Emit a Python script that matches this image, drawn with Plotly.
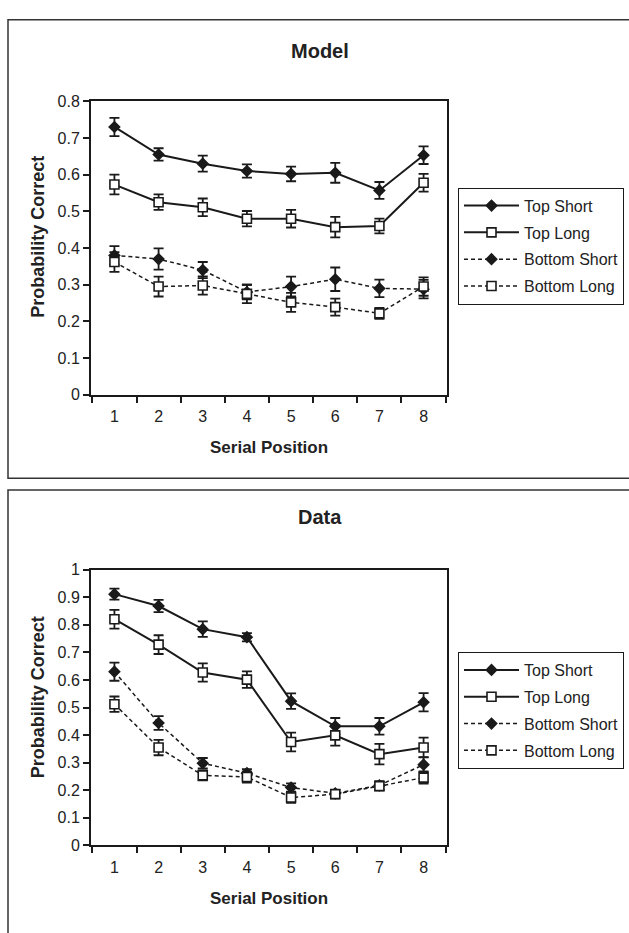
import plotly.graph_objects as go

# Serial positions (category axis)
positions = ["1", "2", "3", "4", "5", "6", "7", "8"]
series_names = ["Top Short", "Top Long", "Bottom Short", "Bottom Long"]

# Model panel: mean probability correct and error-bar half widths
model_top_short = [0.73, 0.655, 0.63, 0.61, 0.602, 0.605, 0.557, 0.653]
model_top_short_err = [0.025, 0.017, 0.022, 0.018, 0.02, 0.027, 0.023, 0.024]
model_top_long = [0.573, 0.525, 0.511, 0.48, 0.48, 0.457, 0.46, 0.578]
model_top_long_err = [0.027, 0.021, 0.024, 0.021, 0.024, 0.028, 0.02, 0.024]
model_bottom_short = [0.38, 0.37, 0.34, 0.28, 0.295, 0.315, 0.29, 0.288]
model_bottom_short_err = [0.025, 0.029, 0.022, 0.02, 0.027, 0.032, 0.024, 0.025]
model_bottom_long = [0.362, 0.295, 0.298, 0.275, 0.252, 0.239, 0.222, 0.295]
model_bottom_long_err = [0.027, 0.027, 0.025, 0.025, 0.026, 0.023, 0.015, 0.025]

# Data panel
data_top_short = [0.911, 0.868, 0.784, 0.755, 0.523, 0.432, 0.432, 0.519]
data_top_short_err = [0.02, 0.022, 0.028, 0.015, 0.028, 0.03, 0.03, 0.033]
data_top_long = [0.82, 0.728, 0.627, 0.601, 0.375, 0.399, 0.331, 0.355]
data_top_long_err = [0.034, 0.034, 0.033, 0.03, 0.034, 0.037, 0.037, 0.036]
data_bottom_short = [0.63, 0.444, 0.298, 0.262, 0.21, 0.189, 0.218, 0.293]
data_bottom_short_err = [0.033, 0.025, 0.019, 0.015, 0.015, 0.012, 0.015, 0.027]
data_bottom_long = [0.512, 0.355, 0.254, 0.248, 0.174, 0.186, 0.215, 0.246]
data_bottom_long_err = [0.028, 0.028, 0.018, 0.02, 0.02, 0.015, 0.015, 0.022]

# Y tick labels
model_yticks = [0, 0.1, 0.2, 0.3, 0.4, 0.5, 0.6, 0.7, 0.8]
model_yticktext = ["0", "0.1", "0.2", "0.3", "0.4", "0.5", "0.6", "0.7", "0.8"]
data_yticks = [0, 0.1, 0.2, 0.3, 0.4, 0.5, 0.6, 0.7, 0.8, 0.9, 1.0]
data_yticktext = ["0", "0.1", "0.2", "0.3", "0.4", "0.5", "0.6", "0.7", "0.8", "0.9", "1"]

W, H = 629, 933
FONT = "Liberation Sans, Arial, sans-serif"
INK = "#1a1a1a"


def px_x(v):
    return v / W


def px_y(v):
    return 1 - v / H


styles = {
    "Top Short": dict(symbol="diamond", fill=INK, dash="solid", lw=2),
    "Top Long": dict(symbol="square", fill="white", dash="solid", lw=2),
    "Bottom Short": dict(symbol="diamond", fill=INK, dash="4px,3px", lw=1.5),
    "Bottom Long": dict(symbol="square", fill="white", dash="4px,3px", lw=1.5),
}

fig = go.Figure()


def add_series(name, ys, errs, xa, ya, legend):
    st = styles[name]
    fig.add_trace(go.Scatter(
        x=positions, y=ys, name=name, mode="lines+markers",
        xaxis=xa, yaxis=ya, legend=legend, legendgroup=legend + name,
        line=dict(color=INK, width=st["lw"], dash=st["dash"]),
        marker=dict(symbol=st["symbol"], size=8 if st["symbol"] == "diamond" else 9,
                    color=st["fill"], line=dict(color=INK, width=1.6)),
        error_y=dict(type="data", array=errs, visible=True, color=INK,
                     thickness=1.8, width=5),
    ))


model_sets = [model_top_short, model_top_long, model_bottom_short, model_bottom_long]
model_errs = [model_top_short_err, model_top_long_err, model_bottom_short_err, model_bottom_long_err]
data_sets = [data_top_short, data_top_long, data_bottom_short, data_bottom_long]
data_errs = [data_top_short_err, data_top_long_err, data_bottom_short_err, data_bottom_long_err]

for n, ys, es in zip(series_names, model_sets, model_errs):
    add_series(n, ys, es, "x", "y", "legend")
for n, ys, es in zip(series_names, data_sets, data_errs):
    add_series(n, ys, es, "x2", "y2", "legend2")

axis_common = dict(showline=True, mirror=True, linecolor=INK, linewidth=2,
                   ticks="outside", tickcolor=INK, tickwidth=1.5, ticklen=6,
                   showgrid=False, zeroline=False,
                   tickfont=dict(family=FONT, size=16, color="#222"))

xdom = [px_x(91), px_x(447)]
fig.update_layout(
    width=W, height=H, margin=dict(l=0, r=0, t=0, b=0),
    paper_bgcolor="white", plot_bgcolor="white",
    xaxis=dict(domain=xdom, anchor="y", type="category", tickson="boundaries",
               ticklabelstandoff=6, **axis_common),
    yaxis=dict(domain=[px_y(394), px_y(95)], anchor="x", range=[0, 0.8],
               tickvals=model_yticks, ticktext=model_yticktext, **axis_common),
    xaxis2=dict(domain=xdom, anchor="y2", type="category", tickson="boundaries",
                ticklabelstandoff=6, **axis_common),
    yaxis2=dict(domain=[px_y(853), px_y(572)], anchor="x2", range=[0, 1.0],
                tickvals=data_yticks, ticktext=data_yticktext, **axis_common),
)

legend_common = dict(xanchor="left", yanchor="top", bgcolor="white",
                     bordercolor=INK, borderwidth=1, traceorder="grouped",
                     tracegroupgap=3, itemwidth=55,
                     font=dict(family=FONT, size=16, color="#222"))
fig.update_layout(
    legend=dict(x=px_x(458), y=px_y(183), **legend_common),
    legend2=dict(x=px_x(458), y=px_y(656), **legend_common),
)

# Outer chart-area frames
fig.add_shape(type="rect", xref="paper", yref="paper",
              x0=px_x(8), x1=1.05, y0=px_y(479), y1=px_y(12),
              line=dict(color="#333", width=1.5), fillcolor="rgba(0,0,0,0)", layer="below")
fig.add_shape(type="rect", xref="paper", yref="paper",
              x0=px_x(8), x1=1.05, y0=-0.05, y1=px_y(491),
              line=dict(color="#333", width=1.5), fillcolor="rgba(0,0,0,0)", layer="below")

bold = dict(family=FONT, color="#222")
annots = [
    dict(text="<b>Model</b>", x=px_x(320), y=px_y(44), font=dict(size=20, **bold)),
    dict(text="<b>Data</b>", x=px_x(320), y=px_y(518), font=dict(size=20, **bold)),
    dict(text="<b>Serial Position</b>", x=px_x(269), y=px_y(448), font=dict(size=17, **bold)),
    dict(text="<b>Serial Position</b>", x=px_x(269), y=px_y(907), font=dict(size=17, **bold)),
    dict(text="<b>Probability Correct</b>", x=px_x(38), y=px_y(233), textangle=-90,
         font=dict(size=18, **bold)),
    dict(text="<b>Probability Correct</b>", x=px_x(38), y=px_y(702), textangle=-90,
         font=dict(size=18, **bold)),
]
for a in annots:
    fig.add_annotation(xref="paper", yref="paper", showarrow=False,
                       xanchor="center", yanchor="middle", **a)

fig.write_html("out.html")
